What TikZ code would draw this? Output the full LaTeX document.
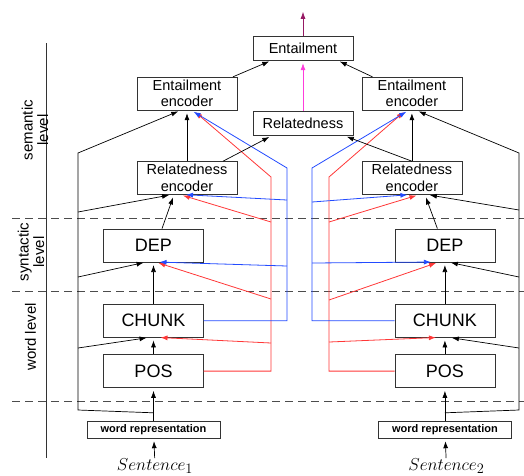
\documentclass[tikz,border=0pt]{standalone}
\usepackage{fontspec}
\setmainfont{Liberation Sans}
\usepackage{tikz}
\usetikzlibrary{arrows.meta,positioning}

\definecolor{linkblue}{RGB}{35,75,255}
\definecolor{linkred}{RGB}{255,55,55}
\definecolor{linkpink}{RGB}{255,60,220}
\definecolor{linkpurple}{RGB}{150,25,100}

\begin{document}
\begin{tikzpicture}[
    x=1pt, y=-1pt,
    node distance=20pt,
    encoder/.style={rectangle, draw=black!80, minimum width=100pt, minimum height=33pt, inner sep=0.5pt, align=center, font=\fontsize{14.5}{16.5}\selectfont},
    task/.style={rectangle, draw=black!80, minimum width=100pt, minimum height=33pt, inner sep=0.5pt, font=\fontsize{18}{20}\selectfont},
    output/.style={rectangle, draw=black!80, minimum width=100pt, minimum height=24pt, inner sep=0.5pt, font=\fontsize{14.5}{16.5}\selectfont},
    embed/.style={rectangle, draw=black!80, minimum width=133pt, minimum height=17pt, inner sep=0pt, font=\bfseries\fontsize{11}{12}\selectfont},
    sentence/.style={inner sep=0pt, font=\fontsize{19}{21}\selectfont},
    level/.style={rotate=90, align=center, font=\fontsize{15}{15.5}\selectfont},
    arrow/.style={-{Latex[length=7pt,width=5pt]}, line width=0.7pt, shorten >=3pt},
    blueline/.style={linkblue, line width=0.8pt},
    redline/.style={linkred, line width=0.8pt},
    boundary/.style={dash pattern=on 8pt off 5pt, line width=0.8pt, black!70}
]
\useasboundingbox (0,0) rectangle (524,475);

% levels
\draw [line width=0.8pt, black!80] (46,43) -- (46,458);
\draw [boundary] (12,218) -- (524,218);
\draw [boundary] (12,291) -- (524,291);
\draw [boundary] (12,401) -- (524,401);
\node [level] (semlabel) at (35,130) {semantic\\level};
\node [level] (synlabel) at (31,252) {syntactic\\level};
\node [level] (wordlabel) at (30.5,337) {word level};

% left sentence
\node [encoder] (lenc) at (187,93.5) {Entailment\\encoder};
\node [encoder, below=51pt of lenc] (lrel) {Relatedness\\encoder};
\node [task, below=34pt of lrel, xshift=-33.5pt] (ldep) {DEP};
\node [task, below=42pt of ldep] (lchunk) {CHUNK};
\node [task, below=17pt of lchunk] (lpos) {POS};
\node [embed, below=33pt of lpos] (lword) {word representation};
\node [sentence, below=20pt of lword, xshift=1.5pt] (ls) {$Sentence_1$};

% right sentence
\node [encoder, right=124.5pt of lenc] (renc) {Entailment\\encoder};
\node [encoder, below=51pt of renc] (rrel) {Relatedness\\encoder};
\node [task, below=34pt of rrel, xshift=33pt] (rdep) {DEP};
\node [task, below=42pt of rdep] (rchunk) {CHUNK};
\node [task, below=17pt of rchunk] (rpos) {POS};
\node [embed, below=33pt of rpos] (rword) {word representation};
\node [sentence, below=20pt of rword, xshift=1.5pt] (rs) {$Sentence_2$};

% pair outputs
\node [output] (ent) at (303,48) {Entailment};
\node [output, below=51pt of ent] (rel) {Relatedness};
\coordinate [above=27pt of ent] (out);

% shortcut corners
\coordinate (lskip) at ([yshift=8pt]lword.north);
\coordinate (lskb) at (78,410);
\coordinate (lskt) at (78,153);
\coordinate (lsk1) at (78,348);
\coordinate (lsk2) at (78,277);
\coordinate (lsk3) at (78,212);
\coordinate (rskip) at ([yshift=8pt]rword.north);
\coordinate (rskb) at (519,410);
\coordinate (rskt) at (519,153);
\coordinate (rsk1) at (519,348);
\coordinate (rsk2) at (519,277);
\coordinate (rsk3) at (519,210);

% label feeds
\coordinate (lbt) at (287,168);
\coordinate (lb1) at (287,266);
\coordinate (lb2) at (287,200);
\coordinate (lrt) at (271,177);
\coordinate (lr1) at (271,343);
\coordinate (lr2) at (271,299);
\coordinate (lr3) at (271,222);
\coordinate (rbt) at (312,168);
\coordinate (rb1) at (312,263);
\coordinate (rb2) at (312,202);
\coordinate (rrt) at (329,177);
\coordinate (rr1) at (329,342);
\coordinate (rr2) at (329,300);
\coordinate (rr3) at (329,222);

% red (POS) feeds
\draw [arrow, redline] (lpos.east) -| (lrt) -- ([xshift=6pt]lenc.south);
\draw [arrow, redline] (lr1) -- ([xshift=4pt]lchunk.south);
\draw [arrow, redline] (lr2) -- ([xshift=2pt]ldep.south);
\draw [arrow, redline] (lr3) -- ([xshift=-7pt]lrel.south);
\draw [arrow, redline] (rpos.west) -| (rrt) -- ([xshift=-6pt]renc.south);
\draw [arrow, redline] (rr1) -- ([xshift=-6pt]rchunk.south);
\draw [arrow, redline] (rr2) -- ([xshift=-6pt]rdep.south);
\draw [arrow, redline] (rr3) -- ([xshift=7.5pt]rrel.south);

% blue (CHUNK) feeds
\draw [arrow, blueline] (lchunk.east) -| (lbt) -- ([xshift=4pt]lenc.south);
\draw [arrow, blueline] (lb1) -- ([xshift=3pt]ldep.south);
\draw [arrow, blueline] (lb2) -- ([xshift=-4pt]lrel.south);
\draw [arrow, blueline] (rchunk.west) -| (rbt) -- ([xshift=-3pt]renc.south);
\draw [arrow, blueline] (rb1) -- ([xshift=-11pt]rdep.south);
\draw [arrow, blueline] (rb2) -- ([xshift=-1.5pt]rrel.south);

% word shortcuts
\draw [arrow] (lskip) -- (lskb) -- (lskt) -- ([xshift=-6pt]lenc.south);
\draw [arrow] (lsk1) -- ([xshift=-4pt]lchunk.south);
\draw [arrow] (lsk2) -- ([xshift=-7pt]ldep.south);
\draw [arrow] (lsk3) -- ([xshift=-15pt]lrel.south);
\draw [arrow] (rskip) -- (rskb) -- (rskt) -- ([xshift=4pt]renc.south);
\draw [arrow] (rsk1) -- ([xshift=4pt]rchunk.south);
\draw [arrow] (rsk2) -- ([xshift=3pt]rdep.south);
\draw [arrow] (rsk3) -- ([xshift=15pt]rrel.south);

% stacks
\draw [arrow] (ls) -- (lword);
\draw [arrow] (lword) -- (lpos);
\draw [arrow] (lpos) -- (lchunk);
\draw [arrow] (lchunk) -- (ldep);
\draw [arrow] ([xshift=8.5pt]ldep.north) -- ([xshift=-13pt]lrel.south);
\draw [arrow] (lrel) -- (lenc);
\draw [arrow] ([xshift=36pt]lrel.north) -- ([xshift=-31pt]rel.south);
\draw [arrow] ([xshift=46pt]lenc.north) -- ([xshift=-31pt]ent.south);
\draw [arrow] (rs) -- (rword);
\draw [arrow] (rword) -- (rpos);
\draw [arrow] (rpos) -- (rchunk);
\draw [arrow] (rchunk) -- (rdep);
\draw [arrow] ([xshift=-7.5pt]rdep.north) -- ([xshift=13pt]rrel.south);
\draw [arrow] (rrel) -- (renc);
\draw [arrow] (rrel.north) -- ([xshift=41pt]rel.south);
\draw [arrow] ([xshift=-39.5pt]renc.north) -- ([xshift=34pt]ent.south);
\draw [arrow, linkpink] (rel) -- (ent);
\draw [arrow, linkpurple] (ent) -- (out);

\end{tikzpicture}
\end{document}
